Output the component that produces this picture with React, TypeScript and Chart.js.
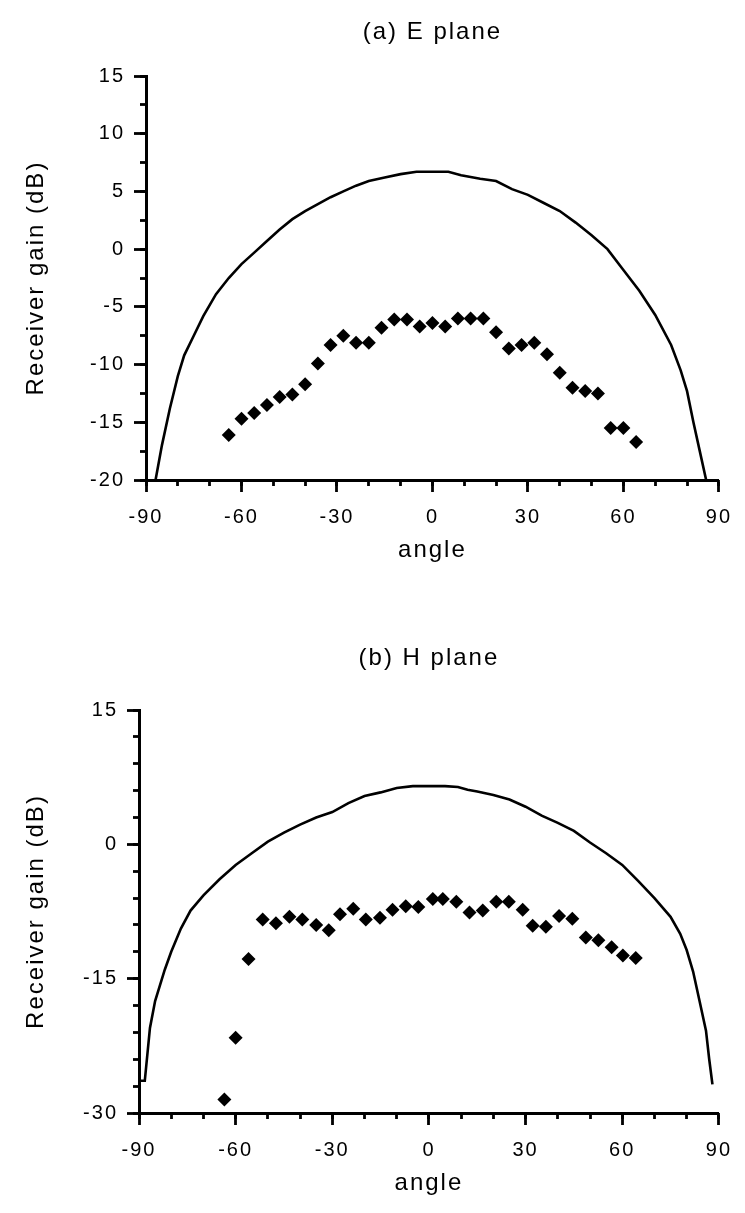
import React, { useEffect, useRef } from 'react';
import { Chart, registerables } from 'chart.js';

Chart.register(...registerables);

const FONT = '"Liberation Sans", Arial, Helvetica, sans-serif';

// ---------- (a) E plane ----------
const eCurveAngle = [-87, -85, -82.5, -80, -78, -75, -72, -68, -64, -60, -56, -52, -48, -44, -40, -36, -32, -28, -24, -20, -15, -10, -5, 0, 5, 9, 15, 20, 25, 30, 35, 40, 45, 50, 55, 60, 65, 70, 75, 78, 80, 82, 84, 86];
const eCurveGain = [-20, -17, -13.8, -11, -9.2, -7.5, -5.8, -3.9, -2.5, -1.3, -0.3, 0.7, 1.7, 2.6, 3.3, 3.9, 4.5, 5.0, 5.5, 5.9, 6.2, 6.5, 6.7, 6.7, 6.7, 6.4, 6.1, 5.9, 5.2, 4.7, 4.0, 3.3, 2.3, 1.2, 0.0, -1.8, -3.6, -5.7, -8.3, -10.5, -12.3, -15, -17.5, -20];
const ePointAngle = [-64, -60, -56, -52, -48, -44, -40, -36, -32, -28, -24, -20, -16, -12, -8, -4, 0, 4, 8, 12, 16, 20, 24, 28, 32, 36, 40, 44, 48, 52, 56, 60, 64];
const ePointGain = [-16.1, -14.7, -14.2, -13.5, -12.8, -12.6, -11.7, -9.9, -8.3, -7.5, -8.1, -8.1, -6.8, -6.1, -6.1, -6.7, -6.4, -6.7, -6.0, -6.0, -6.0, -7.2, -8.6, -8.3, -8.1, -9.1, -10.7, -12.0, -12.3, -12.5, -15.5, -15.5, -16.7];
const eYMin = -20;
const eYMax = 15;
const eYStep = 5;
const eYMinorStep = 2.5;

// ---------- (b) H plane ----------
const hCurveAngle = [-89.5, -88.2, -86.6, -85, -82, -80, -77, -74, -70, -65, -60, -55, -50, -45, -40, -35, -30, -25, -20, -15, -10, -5, 0, 5, 9, 12, 15, 20, 25, 30, 35, 40, 45, 50, 55, 60, 65, 70, 75, 78, 80, 82, 84, 86, 87, 88];
const hCurveGain = [-26.4, -26.4, -20.5, -17.5, -14, -12, -9.4, -7.4, -5.7, -3.9, -2.3, -1.0, 0.3, 1.3, 2.2, 3.0, 3.6, 4.6, 5.4, 5.8, 6.3, 6.5, 6.5, 6.5, 6.4, 6.1, 5.9, 5.5, 5.0, 4.2, 3.2, 2.4, 1.5, 0.2, -1.0, -2.3, -4.1, -6.0, -8.1, -10, -11.8, -14.2, -17.5, -20.8, -24, -26.8];
const hPointAngle = [-63.5, -60, -56, -51.6, -47.5, -43.3, -39.3, -35, -31.1, -27.6, -23.5, -19.6, -15.2, -11.3, -7.2, -3.3, 1.2, 4.3, 8.5, 12.6, 16.7, 20.9, 24.8, 29.1, 32.2, 36.3, 40.4, 44.5, 48.7, 52.6, 56.7, 60.2, 64.2];
const hPointGain = [-28.5, -21.6, -12.8, -8.4, -8.8, -8.1, -8.4, -9.0, -9.6, -7.8, -7.2, -8.4, -8.2, -7.3, -6.9, -7.0, -6.1, -6.1, -6.4, -7.6, -7.4, -6.4, -6.4, -7.3, -9.1, -9.2, -8.0, -8.3, -10.4, -10.7, -11.5, -12.4, -12.7];
const hYMin = -30;
const hYMax = 15;
const hYStep = 15;
const hYMinorStep = 3;

const xMin = -90;
const xMax = 90;
const xStep = 30;
const xMinorStep = 10;

const toXY = (xs: number[], ys: number[]) => xs.map((x, i) => ({ x, y: ys[i] }));

const SPACING = '2px';

const spacingPlugin = {
  id: 'spacing',
  beforeUpdate(chart: any) {
    chart.ctx.letterSpacing = SPACING;
  },
  beforeDraw(chart: any) {
    chart.ctx.letterSpacing = SPACING;
  },
};

function titlePlugin(text: string, y: number) {
  return {
    id: 'ptitle',
    afterDraw(chart: any) {
      const ctx = chart.ctx;
      const a = chart.chartArea;
      ctx.save();
      ctx.letterSpacing = SPACING;
      ctx.font = `24px ${FONT}`;
      ctx.fillStyle = '#000';
      ctx.textAlign = 'center';
      ctx.textBaseline = 'middle';
      ctx.fillText(text, (a.left + a.right) / 2, y);
      ctx.restore();
    },
  };
}

interface PanelProps {
  title: string;
  titleY: number;
  curveX: number[];
  curveY: number[];
  ptX: number[];
  ptY: number[];
  yMin: number;
  yMax: number;
  yStep: number;
  yMinor: number;
  height: number;
  top: number;
  chartTop: number;
  yAxisWidth: number;
  padRight: number;
}

function Panel(p: PanelProps) {
  const ref = useRef<HTMLCanvasElement | null>(null);
  useEffect(() => {
    if (!ref.current) return;
    const tickFont = { family: FONT, size: 20 };
    const titleFont = { family: FONT, size: 24 };
    const chart = new Chart(ref.current, {
      type: 'scatter',
      data: {
        datasets: [
          {
            type: 'line',
            data: toXY(p.curveX, p.curveY),
            borderColor: '#000',
            borderWidth: 2.6,
            pointRadius: 0,
            tension: 0,
            fill: false,
            showLine: true,
          } as any,
          {
            type: 'scatter',
            data: toXY(p.ptX, p.ptY),
            pointStyle: 'rectRot',
            pointRadius: 7,
            pointBackgroundColor: '#000',
            pointBorderWidth: 0,
            pointBorderColor: '#000',
          } as any,
        ],
      },
      options: {
        responsive: false,
        animation: false,
        devicePixelRatio: 1,
        layout: { padding: { top: p.chartTop, right: p.padRight, bottom: 0, left: 0 } },
        plugins: { legend: { display: false }, tooltip: { enabled: false }, title: { display: false } },
        scales: {
          x: {
            type: 'linear',
            position: 'bottom',
            min: xMin,
            max: xMax,
            weight: 1,
            ticks: { stepSize: xStep, padding: 13, color: '#000', font: tickFont, autoSkip: false, maxRotation: 0 },
            grid: { drawOnChartArea: false, drawTicks: true, tickLength: 12, tickWidth: 2.8, tickColor: '#000' },
            border: { display: true, color: '#000', width: 3 },
            title: { display: true, text: 'angle', color: '#000', font: titleFont, padding: { top: 0, bottom: 15 } },
            afterFit: (s: any) => {
              s.height = 100;
            },
          },
          xm: {
            type: 'linear',
            position: 'bottom',
            min: xMin,
            max: xMax,
            weight: 0,
            ticks: { stepSize: xMinorStep, display: false },
            grid: { drawOnChartArea: false, drawTicks: true, tickLength: 6, tickWidth: 2.8, tickColor: '#000' },
            border: { display: false },
            afterFit: (s: any) => {
              s.height = 0;
            },
          },
          y: {
            type: 'linear',
            position: 'left',
            min: p.yMin,
            max: p.yMax,
            weight: 1,
            ticks: { stepSize: p.yStep, padding: 9, color: '#000', font: tickFont },
            grid: { drawOnChartArea: false, drawTicks: true, tickLength: 12, tickWidth: 2.8, tickColor: '#000' },
            border: { display: true, color: '#000', width: 3 },
            title: { display: true, text: 'Receiver gain (dB)', color: '#000', font: titleFont, padding: { top: 22, bottom: 0 } },
            afterFit: (s: any) => {
              s.width = p.yAxisWidth;
            },
          },
          ym: {
            type: 'linear',
            position: 'left',
            min: p.yMin,
            max: p.yMax,
            weight: 0,
            ticks: { stepSize: p.yMinor, display: false },
            grid: { drawOnChartArea: false, drawTicks: true, tickLength: 6, tickWidth: 2.8, tickColor: '#000' },
            border: { display: false },
            afterFit: (s: any) => {
              s.width = 0;
            },
          },
        } as any,
      },
      plugins: [spacingPlugin, titlePlugin(p.title, p.titleY)],
    } as any);
    return () => chart.destroy();
  }, []);
  return (
    <canvas
      ref={ref}
      width={745}
      height={p.height}
      style={{ position: 'absolute', left: 0, top: p.top, width: 745, height: p.height }}
    />
  );
}

export default function App() {
  return (
    <div style={{ position: 'absolute', left: 0, top: 0, width: 745, height: 1213, background: '#fff', overflow: 'hidden' }}>
      <Panel
        title="(a) E plane"
        titleY={32}
        curveX={eCurveAngle}
        curveY={eCurveGain}
        ptX={ePointAngle}
        ptY={ePointGain}
        yMin={eYMin}
        yMax={eYMax}
        yStep={eYStep}
        yMinor={eYMinorStep}
        height={580}
        top={0}
        chartTop={76}
        yAxisWidth={146}
        padRight={16}
      />
      <Panel
        title="(b) H plane"
        titleY={58}
        curveX={hCurveAngle}
        curveY={hCurveGain}
        ptX={hPointAngle}
        ptY={hPointGain}
        yMin={hYMin}
        yMax={hYMax}
        yStep={hYStep}
        yMinor={hYMinorStep}
        height={613}
        top={600}
        chartTop={110}
        yAxisWidth={139}
        padRight={25}
      />
    </div>
  );
}
